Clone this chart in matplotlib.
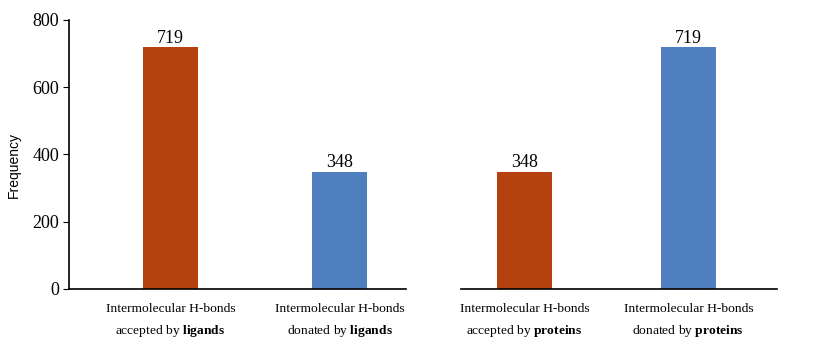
import matplotlib
matplotlib.use("Agg")
import matplotlib.pyplot as plt

plt.rcParams['font.family'] = ['Liberation Serif', 'DejaVu Serif']
plt.rcParams['mathtext.fontset'] = 'custom'
plt.rcParams['mathtext.rm'] = 'Liberation Serif'
plt.rcParams['mathtext.bf'] = 'Liberation Serif:bold'

left_labels = ["Intermolecular H-bonds\naccepted by $\\mathbf{ligands}$",
               "Intermolecular H-bonds\ndonated by $\\mathbf{ligands}$"]
left_values = [719, 348]
right_labels = ["Intermolecular H-bonds\naccepted by $\\mathbf{proteins}$",
                "Intermolecular H-bonds\ndonated by $\\mathbf{proteins}$"]
right_values = [348, 719]
colors = ["#B5420E", "#4F7FBE"]
yticks = [0, 200, 400, 600, 800]

fig = plt.figure(figsize=(8.14, 3.5), dpi=100)
axL = fig.add_axes([0.0848, 0.1743, 0.4140, 0.7686])
axR = fig.add_axes([0.5663, 0.1743, 0.3882, 0.7686])

def draw(ax, labels, values, xlim, width, show_y):
    pos = list(range(len(values)))
    bars = ax.bar(pos, values, width=width, color=colors)
    for b, v in zip(bars, values):
        ax.text(b.get_x() + b.get_width() / 2, v + 2, str(v), ha='center', va='bottom', fontsize=13)
    ax.set_xlim(*xlim)
    ax.set_ylim(0, 800)
    ax.set_xticks(pos)
    ax.set_xticklabels(labels, fontsize=9.7, linespacing=1.75)
    ax.tick_params(axis='x', length=0, pad=10)
    for s in ['top', 'right']:
        ax.spines[s].set_visible(False)
    ax.spines['bottom'].set_linewidth(1.2)
    if show_y:
        ax.set_yticks(yticks)
        ax.tick_params(axis='y', labelsize=13, length=4, direction='out', pad=3)
        ax.spines['left'].set_linewidth(1.2)
        ax.set_ylabel("Frequency", fontsize=10, family=['Liberation Sans', 'DejaVu Sans'])
        ax.yaxis.set_label_coords(-0.142, 0.46)
    else:
        ax.spines['left'].set_visible(False)
        ax.set_yticks([])

draw(axL, left_labels, left_values, (-0.598, 1.39), 0.324, True)
draw(axR, right_labels, right_values, (-0.387, 1.54), 0.335, False)

fig.savefig("out.png", dpi=100)
